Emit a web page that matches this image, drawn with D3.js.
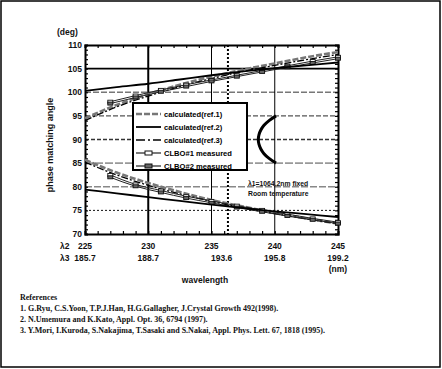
<!DOCTYPE html>
<html><head><meta charset="utf-8">
<script src="https://cdn.jsdelivr.net/npm/d3@7"></script>
<style>body{margin:0;background:#fff}svg{display:block}</style>
</head><body>
<script>
// ---- data ----
const wl = [225, 227.5, 230, 232.5, 235, 237.5, 240, 242.5, 245];
const ref1Upper = [94.5, 97.3, 99.6, 101.6, 103.3, 104.8, 106.1, 107.4, 108.5];
const ref2Upper = [100.3, 101.1, 101.8, 102.7, 103.6, 104.4, 105.1, 105.7, 106.3];
const ref3Upper = [94.0, 96.9, 99.2, 101.2, 102.9, 104.4, 105.7, 106.9, 108.0];
const ref1Lower = [85.7, 83.0, 80.8, 78.9, 77.2, 75.8, 74.5, 73.3, 72.2];
const ref2Lower = [79.4, 78.6, 77.8, 77.0, 76.2, 75.5, 74.8, 74.2, 73.6];
const ref3Lower = [85.2, 82.5, 80.3, 78.5, 76.9, 75.5, 74.3, 73.2, 72.2];
const measWl = [227, 229, 231, 233, 235, 237, 239, 241, 243, 245];
const meas1Upper = [98.0, 99.3, 100.5, 101.6, 102.6, 103.6, 104.6, 105.6, 106.6, 107.5];
const meas2Upper = [97.6, 98.9, 100.1, 101.2, 102.3, 103.3, 104.3, 105.3, 106.2, 107.1];
const meas1Lower = [82.5, 80.5, 79.2, 78.0, 77.0, 76.0, 75.1, 74.2, 73.3, 72.5];
const meas2Lower = [82.0, 80.1, 78.8, 77.6, 76.6, 75.6, 74.7, 73.8, 73.0, 72.2];
const ncpmAngle = [85, 86, 87, 88, 89, 90, 91, 92, 93, 94, 95];
const ncpmWl = [240.1, 239.55, 239.15, 238.9, 238.75, 238.7, 238.75, 238.9, 239.15, 239.55, 240.1];
const xTicks = [225, 230, 235, 240, 245];
const x3Pos = [225, 230, 235.8, 240, 245];
const x3Labels = ["185.7", "188.7", "193.6", "195.8", "199.2"];
const yTicks = [70, 75, 80, 85, 90, 95, 100, 105, 110];
const legendLabels = ["calculated(ref.1)", "calculated(ref.2)", "calculated(ref.3)", "CLBO#1 measured", "CLBO#2 measured"];
const references = [
  "1. G.Ryu, C.S.Yoon, T.P.J.Han, H.G.Gallagher, J.Crystal Growth 492(1998).",
  "2. N.Umemura and K.Kato, Appl. Opt. 36, 6794 (1997).",
  "3. Y.Mori, I.Kuroda, S.Nakajima, T.Sasaki and S.Nakai, Appl. Phys. Lett. 67, 1818 (1995)."
];

const W = 442, H = 369;
const svg = d3.select("body").append("svg").attr("width", W).attr("height", H);
const sans = "Liberation Sans, Arial, sans-serif";
const serif = "Liberation Serif, Times New Roman, serif";

svg.append("rect").attr("x", 1).attr("y", 1).attr("width", 439).attr("height", 366)
  .attr("fill", "#fff").attr("stroke", "#000").attr("stroke-width", 1.5);

const x = d3.scaleLinear().domain([225, 245]).range([85, 338]);
const y = d3.scaleLinear().domain([70, 110]).range([234, 45]);

// gridlines
const hStyles = {75: ["#111", 1, "2,2"], 80: ["#888", 1.6, "7,2"], 85: ["#999", 1.6, "8,2"],
  90: ["#333", 1.5, "4,2"], 95: ["#555", 1.4, "5,2"], 100: ["#777", 1.6, "6,2"], 105: ["#000", 1.6, null]};
Object.keys(hStyles).forEach(k => {
  const s = hStyles[k];
  svg.append("line").attr("x1", x(225)).attr("x2", x(245)).attr("y1", y(+k)).attr("y2", y(+k))
    .attr("stroke", s[0]).attr("stroke-width", s[1]).attr("stroke-dasharray", s[2]);
});
[[230, 2, null], [235, 1, null], [240, 1, null], [236.3, 2, "2,2"]].forEach(v => {
  svg.append("line").attr("x1", x(v[0])).attr("x2", x(v[0])).attr("y1", y(110)).attr("y2", y(70))
    .attr("stroke", "#000").attr("stroke-width", v[1]).attr("stroke-dasharray", v[2]);
});

// minor ticks via axes
const gL = svg.append("g").attr("transform", `translate(${x(225)},0)`)
  .call(d3.axisRight(y).ticks(40).tickSize(3).tickFormat(""));
const gR = svg.append("g").attr("transform", `translate(${x(245)},0)`)
  .call(d3.axisLeft(y).ticks(40).tickSize(3).tickFormat(""));
const gT = svg.append("g").attr("transform", `translate(0,${y(110)})`)
  .call(d3.axisBottom(x).ticks(20).tickSize(3).tickFormat(""));
const gB = svg.append("g").attr("transform", `translate(0,${y(70)})`)
  .call(d3.axisTop(x).ticks(20).tickSize(3).tickFormat(""));
[gL, gR, gT, gB].forEach(g => { g.selectAll("path").attr("stroke-width", 2); g.selectAll("line").attr("stroke-width", 1.2); });

// curves
const line = d3.line().x(d => x(d[0])).y(d => y(d[1])).curve(d3.curveMonotoneX);
function drawCurve(vals, xs, stroke, sw, dash) {
  svg.append("path").datum(xs.map((w, i) => [w, vals[i]])).attr("d", line)
    .attr("fill", "none").attr("stroke", stroke).attr("stroke-width", sw).attr("stroke-dasharray", dash);
}
function drawMeas(vals, filled) {
  drawCurve(vals, measWl, "#222", 1, null);
  svg.append("g").selectAll("rect").data(measWl.map((w, i) => [w, vals[i]])).join("rect")
    .attr("x", d => x(d[0]) - 2.5).attr("y", d => y(d[1]) - 1.5).attr("width", 5).attr("height", 3)
    .attr("fill", filled ? "#666" : "#fff").attr("stroke", "#111").attr("stroke-width", 0.9);
}
[ref1Upper, ref1Lower].forEach(v => drawCurve(v, wl, "#777", 2.6, "6,2"));
[ref3Upper, ref3Lower].forEach(v => drawCurve(v, wl, "#000", 1.3, "7,2,2,2"));
drawMeas(meas1Upper, false); drawMeas(meas1Lower, false);
drawMeas(meas2Upper, true); drawMeas(meas2Lower, true);
[ref2Upper, ref2Lower].forEach(v => drawCurve(v, wl, "#000", 1.8, null));

// NCPM curve
const vline = d3.line().x(d => x(d[0])).y(d => y(d[1])).curve(d3.curveCatmullRom);
svg.append("path").datum(ncpmAngle.map((a, i) => [ncpmWl[i], a])).attr("d", vline)
  .attr("fill", "none").attr("stroke", "#000").attr("stroke-width", 3);

// legend
const lg = svg.append("g");
lg.append("rect").attr("x", 133).attr("y", 103).attr("width", 114).attr("height", 67)
  .attr("fill", "#fff").attr("stroke", "#000").attr("stroke-width", 2);
legendLabels.forEach((t, i) => {
  const ly = 114 + i * 13;
  const l = lg.append("line").attr("x1", 136).attr("x2", 161).attr("y1", ly).attr("y2", ly);
  if (i === 0) l.attr("stroke", "#777").attr("stroke-width", 2.6).attr("stroke-dasharray", "6,2");
  if (i === 1) l.attr("stroke", "#000").attr("stroke-width", 1.8);
  if (i === 2) l.attr("stroke", "#000").attr("stroke-width", 1.5).attr("stroke-dasharray", "9,3,2,3");
  if (i >= 3) {
    l.attr("stroke", "#222").attr("stroke-width", 1.2);
    lg.append("rect").attr("x", 145).attr("y", ly - 2).attr("width", 7).attr("height", 4)
      .attr("fill", i === 3 ? "#fff" : "#666").attr("stroke", "#111").attr("stroke-width", 1);
  }
  lg.append("text").attr("x", 164).attr("y", ly + 3).text(t)
    .attr("font-family", sans).attr("font-weight", "bold").attr("font-size", 7.6);
});

// tick labels
const tf = (sel) => sel.attr("font-family", sans).attr("font-weight", "bold").attr("font-size", 8.5).attr("fill", "#111");
yTicks.forEach(v => tf(svg.append("text").attr("x", 82).attr("y", y(v) + 3).attr("text-anchor", "end").text(v)));
tf(svg.append("text").attr("x", 57).attr("y", 35).text("(deg)"));
xTicks.forEach(v => tf(svg.append("text").attr("x", x(v)).attr("y", 249).attr("text-anchor", "middle").text(v)));
x3Labels.forEach((t, i) => tf(svg.append("text").attr("x", x(x3Pos[i])).attr("y", 261).attr("text-anchor", "middle").text(t)));
tf(svg.append("text").attr("x", 60).attr("y", 249).text("λ2"));
tf(svg.append("text").attr("x", 60).attr("y", 261).text("λ3"));
tf(svg.append("text").attr("x", x(245)).attr("y", 272).attr("text-anchor", "middle").text("(nm)"));
tf(svg.append("text").attr("x", 205).attr("y", 283).attr("text-anchor", "middle").text("wavelength"));
tf(svg.append("text").attr("transform", "translate(53,145) rotate(-90)").attr("text-anchor", "middle")
  .text("phase matching angle")).attr("font-size", 9);

// annotation
const af = (sel) => sel.attr("font-family", sans).attr("font-weight", "bold").attr("font-size", 6.8).attr("fill", "#111");
af(svg.append("text").attr("x", 248).attr("y", 186).text("λ1=1064.2nm fixed"));
af(svg.append("text").attr("x", 248).attr("y", 196).text("Room temperature"));

// references
const rf = (sel) => sel.attr("font-family", serif).attr("font-weight", "bold").attr("font-size", 8).attr("fill", "#111");
rf(svg.append("text").attr("x", 20).attr("y", 300).text("References"));
references.forEach((t, i) => rf(svg.append("text").attr("x", 20).attr("y", 311 + i * 11).text(t)));
</script>
</body></html>
